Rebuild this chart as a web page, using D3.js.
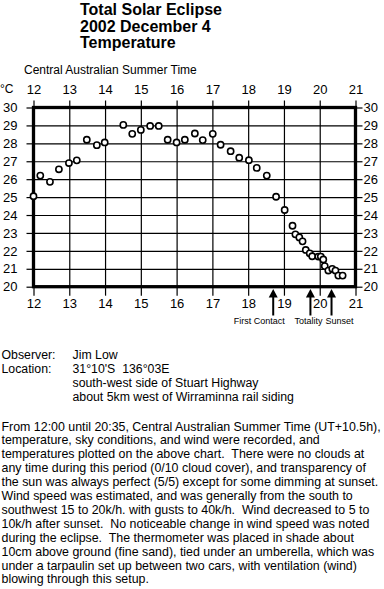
<!DOCTYPE html>
<html><head><meta charset="utf-8">
<script src="https://cdn.jsdelivr.net/npm/d3@7/dist/d3.min.js"></script>
<style>
html,body{margin:0;padding:0;background:#fff;}
svg{display:block;font-family:"Liberation Sans",Arial,sans-serif;}
text{white-space:pre;}
</style></head>
<body>
<svg id="c" width="384" height="589"></svg>
<script>
// ---- data ----
const titleLines = ["Total Solar Eclipse", "2002 December 4", "Temperature"];
const xTicks = [12, 13, 14, 15, 16, 17, 18, 19, 20, 21];
const yTicks = [20, 21, 22, 23, 24, 25, 26, 27, 28, 29, 30];
const timesH = [12.00, 12.19, 12.46, 12.71, 12.99, 13.21, 13.49, 13.77, 13.99, 14.51,
  14.76, 15.00, 15.26, 15.50, 15.75, 16.00, 16.23, 16.51, 16.73, 17.01,
  17.23, 17.51, 17.75, 18.02, 18.24, 18.52, 18.78, 19.02, 19.24, 19.32,
  19.43, 19.52, 19.61, 19.72, 19.79, 19.96, 20.03, 20.10, 20.14, 20.24,
  20.35, 20.44, 20.52, 20.64];
const tempsC = [25.05, 26.2, 25.85, 26.55, 26.9, 27.05, 28.2, 27.9, 28.05, 29.03,
  28.53, 28.75, 28.97, 28.97, 28.2, 28.05, 28.2, 28.55, 28.18, 28.53,
  27.92, 27.56, 27.2, 27.06, 26.63, 26.2, 25.02, 24.28, 23.4, 22.92,
  22.75, 22.53, 22.05, 21.86, 21.7, 21.68, 21.68, 21.52, 21.15, 20.9,
  21.0, 20.9, 20.62, 20.62];
const eventNames = ["First Contact", "Totality", "Sunset"];
const eventTimes = [18.70, 19.74, 20.33];
const infoLabels = ["Observer:", "Location:", "", ""];
const infoValues = ["Jim Low", "31°10'S  136°03E", "south-west side of Stuart Highway", "about 5km west of Wirraminna rail siding"];
const bodyLines = [
"From 12:00 until 20:35, Central Australian Summer Time (UT+10.5h),",
"temperature, sky conditions, and wind were recorded, and",
"temperatures plotted on the above chart.  There were no clouds at",
"any time during this period (0/10 cloud cover), and transparency of",
"the sun was always perfect (5/5) except for some dimming at sunset.",
"Wind speed was estimated, and was generally from the south to",
"southwest 15 to 20k/h. with gusts to 40k/h.  Wind decreased to 5 to",
"10k/h after sunset.  No noticeable change in wind speed was noted",
"during the eclipse.  The thermometer was placed in shade about",
"10cm above ground (fine sand), tied under an umberella, which was",
"under a tarpaulin set up between two cars, with ventilation (wind)",
"blowing through this setup."];

// ---- layout ----
const svg = d3.select("#c");
const L = 33.5, R = 355.5, T = 107.5, B = 286.7;
const x = d3.scaleLinear().domain([12, 21]).range([L, R]);
const y = d3.scaleLinear().domain([20, 30]).range([B, T]);

// title
svg.append("g").selectAll("text").data(titleLines).join("text")
  .attr("x", 80).attr("y", (d, i) => 15 + i * 16.5)
  .attr("font-size", 16).attr("font-weight", "bold").text(d => d);

svg.append("text").attr("x", 24).attr("y", 74).attr("font-size", 12)
  .text("Central Australian Summer Time");
svg.append("text").attr("x", 0).attr("y", 93).attr("font-size", 12).text("°C");

function styleAxis(g, fs) {
  g.select(".domain").remove();
  g.selectAll("line").attr("stroke", "#000").attr("stroke-width", 1.2);
  g.selectAll("text").attr("font-size", fs).attr("font-family", '"Liberation Sans",Arial,sans-serif').attr("fill", "#000");
}

// grid
svg.append("g").attr("transform", `translate(0,${B})`)
  .call(d3.axisBottom(x).tickValues(xTicks.slice(1, -1)).tickSize(-(B - T)).tickFormat(""))
  .call(g => styleAxis(g, 12));
svg.append("g").attr("transform", `translate(${L},0)`)
  .call(d3.axisLeft(y).tickValues(yTicks.slice(1, -1)).tickSize(-(R - L)).tickFormat(""))
  .call(g => styleAxis(g, 12));

// axes
svg.append("g").attr("transform", `translate(0,${T})`)
  .call(d3.axisTop(x).tickValues(xTicks).tickSize(7).tickPadding(7).tickFormat(d3.format("d")))
  .call(g => styleAxis(g, 13));
svg.append("g").attr("transform", `translate(0,${B})`)
  .call(d3.axisBottom(x).tickValues(xTicks).tickSize(9).tickPadding(3).tickFormat(d3.format("d")))
  .call(g => styleAxis(g, 13));
svg.append("g").attr("transform", `translate(${L},0)`)
  .call(d3.axisLeft(y).tickValues(yTicks).tickSize(7).tickPadding(9).tickFormat(d3.format("d")))
  .call(g => styleAxis(g, 13));
svg.append("g").attr("transform", `translate(${R},0)`)
  .call(d3.axisRight(y).tickValues(yTicks).tickSize(7).tickPadding(1).tickFormat(d3.format("d")))
  .call(g => styleAxis(g, 13));

// frame
svg.append("rect").attr("x", L).attr("y", T).attr("width", R - L).attr("height", B - T)
  .attr("fill", "none").attr("stroke", "#000").attr("stroke-width", 3.3);

// points
const pts = timesH.map((t, i) => ({ t, v: tempsC[i] }));
svg.append("g").selectAll("circle").data(pts).join("circle")
  .attr("cx", d => x(d.t)).attr("cy", d => y(d.v)).attr("r", 3.1)
  .attr("fill", "#fff").attr("stroke", "#000").attr("stroke-width", 1.6);

// event arrows
const labelShift = [-14, -2, 8];
const ev = svg.append("g");
eventTimes.forEach((t, i) => {
  const ax = x(t);
  ev.append("line").attr("x1", ax).attr("x2", ax).attr("y1", 296).attr("y2", 315.5)
    .attr("stroke", "#000").attr("stroke-width", 2);
  ev.append("path").attr("d", `M${ax},289 L${ax - 4.5},297.5 L${ax + 4.5},297.5 Z`).attr("fill", "#000");
  ev.append("text").attr("x", ax + labelShift[i]).attr("y", 323.5).attr("text-anchor", "middle")
    .attr("font-size", 9).text(eventNames[i]);
});

// info block
const info = svg.append("g").attr("font-size", 12.3);
infoLabels.forEach((d, i) => {
  info.append("text").attr("x", 1.5).attr("y", 359 + i * 13.9).text(d);
  info.append("text").attr("x", 72.5).attr("y", 359 + i * 13.9).text(infoValues[i]);
});
const body = svg.append("g").attr("font-size", 12.4);
bodyLines.forEach((d, i) => {
  body.append("text").attr("x", 1.5).attr("y", 430.5 + i * 13.9).text(d);
});
</script>
</body></html>
